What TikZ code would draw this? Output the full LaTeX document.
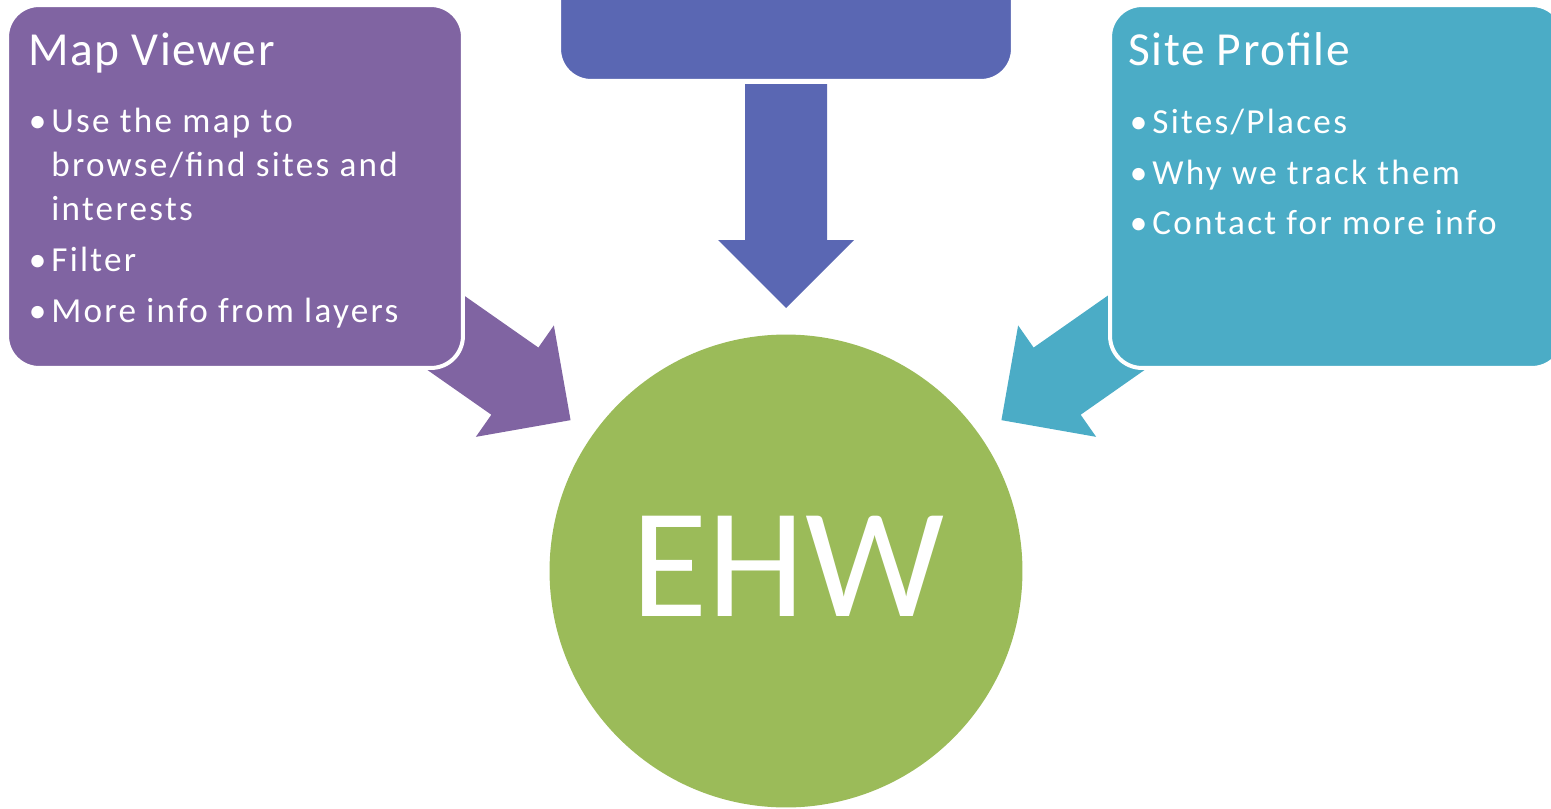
\documentclass[tikz,border=0pt]{standalone}
\usepackage{fontspec}
\setmainfont{Carlito}
\usetikzlibrary{calc}
\definecolor{mapviolet}{HTML}{8064A2}
\definecolor{topblue}{HTML}{5A67B3}
\definecolor{sitecyan}{HTML}{4BACC6}
\definecolor{ehwgreen}{HTML}{9BBB59}
\tikzset{
  infobox/.style={rectangle, rounded corners=0.64cm, draw=white, line width=0.08cm, minimum height=7.26cm, inner sep=0pt},
  boxtitle/.style={anchor=base west, inner sep=0pt, text=white, font=\fontsize{27}{32}\selectfont\addfontfeature{LetterSpace=3.3}},
  boxitem/.style={anchor=base west, inner sep=0pt, text=white, font=\fontsize{20}{24}\selectfont\addfontfeature{LetterSpace=6.5}},
}
\newcommand{\itemdot}{\llap{\textbullet\hspace{0.1cm}}}
\begin{document}
\begin{tikzpicture}[x=0.02cm, y=0.02cm]
\clip (0,0) rectangle (1551,-808);
% hub
\node[circle, fill=ehwgreen, minimum size=9.46cm, inner sep=0pt] (ehw) at (786,-571) {};
\node[text=white, inner sep=0pt, font=\fontsize{89}{100}\selectfont] (ehwlabel) at (788,-566) {EHW};
% arrows into the hub
\foreach \ang/\col in {145/mapviolet, 90/topblue, 35/sitecyan}
  \fill[\col, shift={($(ehw.center)+(\ang:263)$)}, rotate=\ang]
    (0,0) -- (68,68) -- (68,41) -- (224,41) -- (224,-41) -- (68,-41) -- (68,-68) -- cycle;
% boxes
\node[infobox, fill=mapviolet, minimum width=9.12cm] (mapviewer) at (235,-186.5) {};
\node[infobox, fill=topblue, minimum width=9.08cm] (topbox) at (786,100.5) {};
\node[infobox, fill=sitecyan, minimum width=9.08cm] (siteprofile) at (1337,-186.5) {};
% map viewer text
\node[boxtitle] (maptitle) at (28,-65) {Map Viewer};
\node[boxitem] (mapa) at (51,-132) {\itemdot Use the map to};
\node[boxitem] (mapb) at (51,-176) {browse/find sites and};
\node[boxitem] (mapc) at (51,-220) {interests};
\node[boxitem] (mapd) at (51,-271) {\itemdot Filter};
\node[boxitem] (mape) at (51,-322) {\itemdot More info from layers};
% site profile text
\node[boxtitle] (sitetitle) at (1128,-65) {Site Profile};
\node[boxitem] (sitea) at (1152,-133) {\itemdot Sites/Places};
\node[boxitem] (siteb) at (1152,-184) {\itemdot Why we track them};
\node[boxitem] (sitec) at (1152,-234) {\itemdot Contact for more info};
\end{tikzpicture}
\end{document}
